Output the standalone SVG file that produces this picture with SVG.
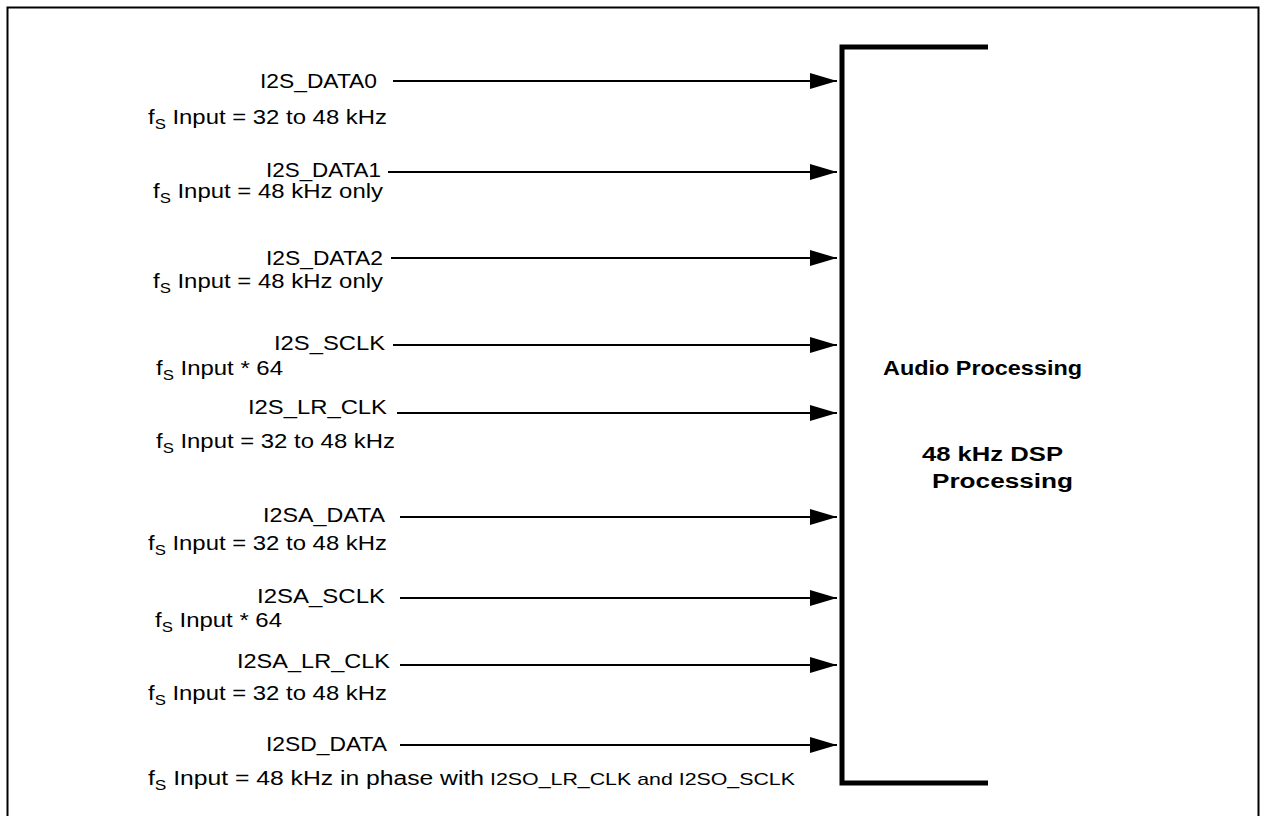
<svg xmlns="http://www.w3.org/2000/svg" width="1262" height="816" viewBox="0 0 1262 816">
<defs>
<style>
.t{font-family:"Liberation Sans",Arial,sans-serif;font-size:20px;fill:#000}
.b{font-family:"Liberation Sans",Arial,sans-serif;font-size:20px;font-weight:bold;fill:#000}
.s{font-size:14px}
.sm{font-family:"Liberation Sans",Arial,sans-serif;font-size:17px;fill:#000}
.ln{stroke:#000;stroke-width:2;fill:none;marker-end:url(#ah)}
</style>
<marker id="ah" markerUnits="userSpaceOnUse" markerWidth="28" markerHeight="18" refX="27" refY="8" orient="auto">
<path d="M0,0 L27,8 L0,16 z" fill="#000"/>
</marker>
</defs>
<rect x="7.5" y="7.5" width="1251" height="830" fill="#fff" stroke="#000" stroke-width="2"/>
<g id="dsp">
<path d="M988,47 H842 V783 H988" fill="none" stroke="#000" stroke-width="5" stroke-linejoin="miter"/>
<text class="b" x="883" y="375" textLength="199" lengthAdjust="spacingAndGlyphs">Audio Processing</text>
<text class="b" x="922" y="461" textLength="141" lengthAdjust="spacingAndGlyphs">48 kHz DSP</text>
<text class="b" x="932" y="488" textLength="141" lengthAdjust="spacingAndGlyphs">Processing</text>
</g>
<g id="connectors">
<line class="ln" x1="393" y1="81" x2="837" y2="81"/>
<line class="ln" x1="388" y1="172" x2="837" y2="172"/>
<line class="ln" x1="391" y1="258" x2="837" y2="258"/>
<line class="ln" x1="393" y1="345" x2="837" y2="345"/>
<line class="ln" x1="397" y1="413" x2="837" y2="413"/>
<line class="ln" x1="400" y1="517" x2="837" y2="517"/>
<line class="ln" x1="400" y1="598" x2="837" y2="598"/>
<line class="ln" x1="400" y1="665" x2="837" y2="665"/>
<line class="ln" x1="400" y1="745" x2="837" y2="745"/>
</g>
<g id="i2s_data0">
<text class="t" x="260" y="88" textLength="117" lengthAdjust="spacingAndGlyphs">I2S_DATA0</text>
<text class="t" x="148" y="124" textLength="239" lengthAdjust="spacingAndGlyphs">f<tspan class="s" dy="5">S</tspan><tspan dy="-5"> Input = 32 to 48 kHz</tspan></text>
</g>
<g id="i2s_data1">
<text class="t" x="266" y="177" textLength="115" lengthAdjust="spacingAndGlyphs">I2S_DATA1</text>
<text class="t" x="153" y="198" textLength="230" lengthAdjust="spacingAndGlyphs">f<tspan class="s" dy="5">S</tspan><tspan dy="-5"> Input = 48 kHz only</tspan></text>
</g>
<g id="i2s_data2">
<text class="t" x="266" y="265" textLength="117" lengthAdjust="spacingAndGlyphs">I2S_DATA2</text>
<text class="t" x="153" y="288" textLength="230" lengthAdjust="spacingAndGlyphs">f<tspan class="s" dy="5">S</tspan><tspan dy="-5"> Input = 48 kHz only</tspan></text>
</g>
<g id="i2s_sclk">
<text class="t" x="274" y="350" textLength="111" lengthAdjust="spacingAndGlyphs">I2S_SCLK</text>
<text class="t" x="156" y="375" textLength="127" lengthAdjust="spacingAndGlyphs">f<tspan class="s" dy="5">S</tspan><tspan dy="-5"> Input * 64</tspan></text>
</g>
<g id="i2s_lr_clk">
<text class="t" x="248" y="414" textLength="139" lengthAdjust="spacingAndGlyphs">I2S_LR_CLK</text>
<text class="t" x="156" y="448" textLength="239" lengthAdjust="spacingAndGlyphs">f<tspan class="s" dy="5">S</tspan><tspan dy="-5"> Input = 32 to 48 kHz</tspan></text>
</g>
<g id="i2sa_data">
<text class="t" x="263" y="522" textLength="122" lengthAdjust="spacingAndGlyphs">I2SA_DATA</text>
<text class="t" x="148" y="550" textLength="239" lengthAdjust="spacingAndGlyphs">f<tspan class="s" dy="5">S</tspan><tspan dy="-5"> Input = 32 to 48 kHz</tspan></text>
</g>
<g id="i2sa_sclk">
<text class="t" x="257" y="603" textLength="128" lengthAdjust="spacingAndGlyphs">I2SA_SCLK</text>
<text class="t" x="155" y="627" textLength="127" lengthAdjust="spacingAndGlyphs">f<tspan class="s" dy="5">S</tspan><tspan dy="-5"> Input * 64</tspan></text>
</g>
<g id="i2sa_lr_clk">
<text class="t" x="237" y="668" textLength="153" lengthAdjust="spacingAndGlyphs">I2SA_LR_CLK</text>
<text class="t" x="148" y="700" textLength="239" lengthAdjust="spacingAndGlyphs">f<tspan class="s" dy="5">S</tspan><tspan dy="-5"> Input = 32 to 48 kHz</tspan></text>
</g>
<g id="i2sd_data">
<text class="t" x="266" y="751" textLength="121" lengthAdjust="spacingAndGlyphs">I2SD_DATA</text>
<text class="t" x="148" y="785" textLength="336" lengthAdjust="spacingAndGlyphs">f<tspan class="s" dy="5">S</tspan><tspan dy="-5"> Input = 48 kHz in phase with</tspan></text>
<text class="sm" x="490" y="785" textLength="305" lengthAdjust="spacingAndGlyphs">I2SO_LR_CLK and I2SO_SCLK</text>
</g>
</svg>
